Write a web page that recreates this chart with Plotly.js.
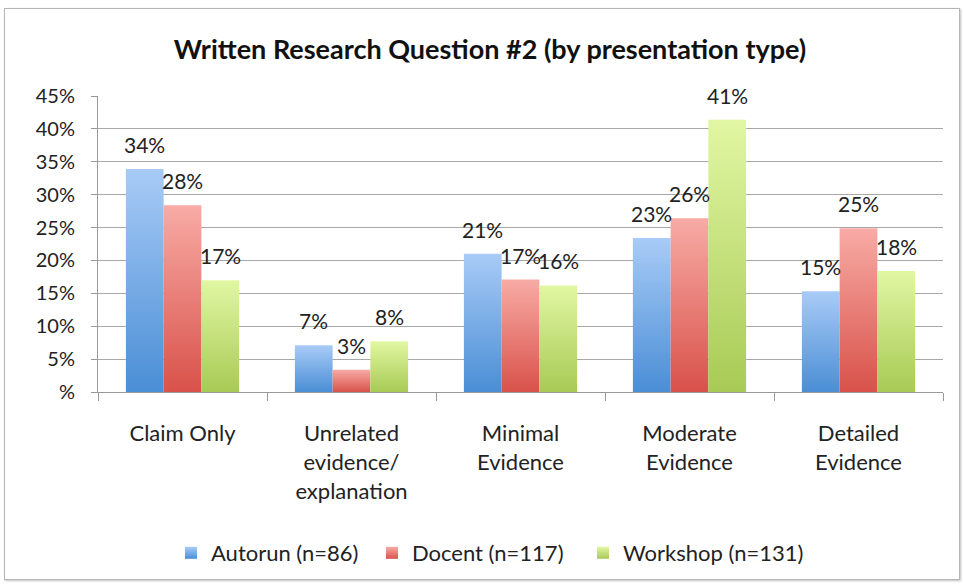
<!DOCTYPE html>
<html>
<head>
<meta charset="utf-8">
<script src="https://cdn.plot.ly/plotly-3.0.1.min.js"></script>
<style>
html,body{margin:0;padding:0;background:#fff;}
#frame{position:absolute;left:4px;top:8px;width:954px;height:570px;border:1px solid #b5b5b5;box-shadow:1px 1px 2px rgba(0,0,0,0.25);background:#fff;}
#chart{position:absolute;left:0;top:0;width:964px;height:584px;}
</style>
</head>
<body>
<div id="frame"></div>
<div id="chart"></div>
<script>
const categories = ['Claim Only', 'Unrelated<br>evidence/<br>explanation', 'Minimal<br>Evidence', 'Moderate<br>Evidence', 'Detailed<br>Evidence'];
const seriesNames = ['Autorun (n=86)', 'Docent (n=117)', 'Workshop (n=131)'];
const autorun = [33.9, 7.1, 21.0, 23.4, 15.3];
const docent = [28.4, 3.4, 17.1, 26.4, 24.9];
const workshop = [17.0, 7.7, 16.2, 41.4, 18.4];
const tickVals = [0, 5, 10, 15, 20, 25, 30, 35, 40, 45];
const tickText = ['%', '5%', '10%', '15%', '20%', '25%', '30%', '35%', '40%', '45%'];

const colors = ['#78a9e6', '#ea7f77', '#c5e27c'];
const grads = [
  ['#a8cbf7', '#4a8ed5'],
  ['#f8aba5', '#d8524a'],
  ['#e1f7a3', '#a8ca55']
];
const seriesVals = [autorun, docent, workshop];
const fontFam = 'Lato, "Open Sans", sans-serif';

const W = 964, H = 584;
const margin = {l: 98, r: 21, t: 96, b: 191};
const bargap = 0.33;
const plotW = W - margin.l - margin.r;
const plotH = H - margin.t - margin.b;
const barW = plotW / categories.length * (1 - bargap) / seriesVals.length;
const legendIds = ['legend', 'legend2', 'legend3'];
const legendLeftPx = [171, 372, 583];

const data = seriesVals.map((vals, i) => ({
  type: 'bar',
  name: seriesNames[i],
  x: categories,
  y: vals,
  legend: legendIds[i],
  marker: {color: colors[i], line: {width: 0}},
  hoverinfo: 'none'
}));

const annotations = [];
seriesVals.forEach((vals, i) => {
  vals.forEach((v, j) => {
    annotations.push({
      x: categories[j], y: v, xref: 'x', yref: 'y',
      text: Math.round(v) + '%',
      showarrow: false,
      xanchor: 'center', yanchor: 'bottom',
      xshift: (i - 1) * barW, yshift: 10,
      font: {family: fontFam, size: 21, color: '#222'}
    });
  });
});

const layout = {
  width: W, height: H,
  paper_bgcolor: 'rgba(0,0,0,0)',
  plot_bgcolor: 'rgba(0,0,0,0)',
  margin: margin,
  barmode: 'group',
  bargap: bargap,
  bargroupgap: 0,
  font: {family: fontFam, size: 20, color: '#222'},
  title: {
    text: '<b>Written Research Question #2 (by presentation type)</b>',
    font: {family: fontFam, size: 27, color: '#111'},
    x: 490 / W, xanchor: 'center', xref: 'container',
    y: 1 - 50 / H, yanchor: 'middle', yref: 'container'
  },
  xaxis: {
    showline: true, linecolor: '#9a9a9a', linewidth: 1,
    ticks: 'outside', tickson: 'boundaries', ticklen: 8, tickcolor: '#9a9a9a',
    tickfont: {family: fontFam, size: 22, color: '#222'},
    ticklabelstandoff: 22, tickangle: 0,
    showgrid: false, fixedrange: true
  },
  yaxis: {
    range: [0, 45], tickvals: tickVals, ticktext: tickText,
    showline: true, linecolor: '#9a9a9a', linewidth: 1,
    ticks: 'outside', ticklen: 6, tickcolor: '#9a9a9a',
    ticklabelstandoff: 12,
    showgrid: true, gridcolor: '#a8a8a8', gridwidth: 1,
    zeroline: false,
    tickfont: {family: fontFam, size: 20, color: '#222'},
    fixedrange: true
  },
  annotations: annotations,
  showlegend: true
};
legendIds.forEach((id, i) => {
  layout[id] = {
    orientation: 'h', x: (legendLeftPx[i] - margin.l) / plotW, xanchor: 'left',
    y: -(553 - (H - margin.b)) / plotH, yanchor: 'middle',
    font: {family: fontFam, size: 22, color: '#222'},
    itemwidth: 30, bgcolor: 'rgba(0,0,0,0)'
  };
});

Plotly.newPlot('chart', data, layout, {staticPlot: true, displayModeBar: false}).then(gd => {
  const svg = gd.querySelector('.main-svg');
  const ns = 'http://www.w3.org/2000/svg';
  let defs = svg.querySelector('defs');
  if (!defs) { defs = document.createElementNS(ns, 'defs'); svg.insertBefore(defs, svg.firstChild); }
  grads.forEach((g, i) => {
    const lg = document.createElementNS(ns, 'linearGradient');
    lg.setAttribute('id', 'barGrad' + i);
    lg.setAttribute('x1', '0'); lg.setAttribute('y1', '0');
    lg.setAttribute('x2', '0'); lg.setAttribute('y2', '1');
    [[0, g[0]], [1, g[1]]].forEach(([o, c]) => {
      const s = document.createElementNS(ns, 'stop');
      s.setAttribute('offset', o); s.setAttribute('stop-color', c);
      lg.appendChild(s);
    });
    defs.appendChild(lg);
  });
  gd.querySelectorAll('.barlayer .trace').forEach((tr, i) => {
    tr.querySelectorAll('.point path').forEach(p => { p.style.fill = 'url(#barGrad' + i + ')'; });
  });
  gd.querySelectorAll('.legendpoints path').forEach(p => {
    const t = p.closest('.traces');
    const txt = t ? t.textContent : '';
    const idx = seriesNames.findIndex(n => txt.indexOf(n) >= 0);
    if (idx >= 0) p.style.fill = 'url(#barGrad' + idx + ')';
  });
});
</script>
</body>
</html>
